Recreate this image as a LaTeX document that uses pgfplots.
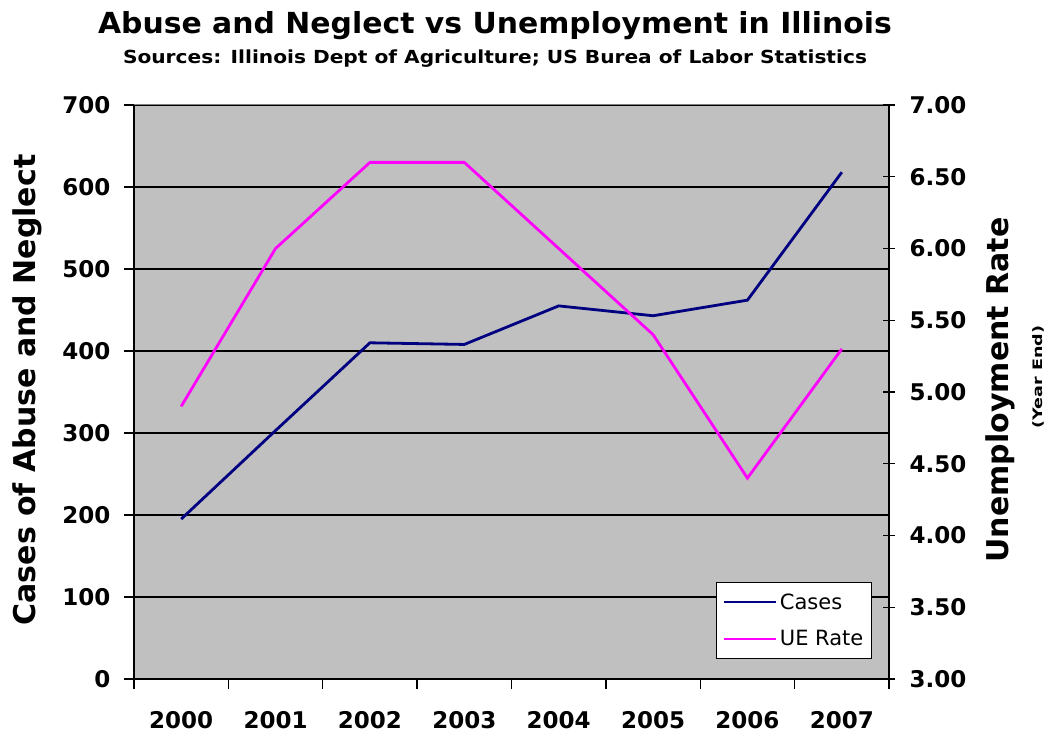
\documentclass[border=0pt]{standalone}
\usepackage{pgfplots}
\pgfplotsset{compat=1.18}
\usepackage{fontspec}
\setmainfont{DejaVu Sans}
\definecolor{plotgray}{HTML}{C0C0C0}
\definecolor{casesblue}{HTML}{000080}
\definecolor{uemag}{HTML}{FF00FF}
\begin{document}
\begin{tikzpicture}[x=1pt,y=1pt]
\useasboundingbox (-134,-57) rectangle (914,679);
\begin{axis}[
  at={(0,0)}, anchor=south west,
  scale only axis, width=755pt, height=574pt,
  xmin=-0.5, xmax=7.5, ymin=0, ymax=700,
  axis background/.style={fill=plotgray},
  axis line style={black, line width=1.3pt},
  xtick={0,...,7},
  xticklabels={2000,2001,2002,2003,2004,2005,2006,2007},
  major x tick style={draw=none},
  minor xtick={-0.5,0.5,...,7.5},
  minor tick length=10pt,
  major tick length=10pt,
  tick align=outside,
  tick style={black, line width=1.3pt},
  xtick pos=bottom, ytick pos=left,
  ytick={0,100,...,700},
  ymajorgrids,
  major grid style={black, line width=1.4pt},
  /pgf/number format/assume math mode=true,
  ticklabel style={font=\fontsize{23}{23}\selectfont\bfseries},
  xticklabel style={yshift=-19pt},
  yticklabel style={xshift=-10pt},
  clip=false,
]
\addplot[casesblue, line width=2.8pt] coordinates {
  (0,195) (1,303) (2,410) (3,408) (4,455) (5,443) (6,462) (7,618)};
\draw[gray, line width=1pt] (rel axis cs:0,1) -- (rel axis cs:1,1);
\end{axis}
\begin{axis}[
  at={(0,0)}, anchor=south west,
  scale only axis, width=755pt, height=574pt,
  xmin=-0.5, xmax=7.5, ymin=3, ymax=7,
  axis x line=none, axis y line*=right,
  axis line style={-, black, line width=1.3pt},
  ytick={3,3.5,...,7},
  major tick length=12pt,
  tick align=center,
  tick style={black, line width=1.3pt},
  /pgf/number format/assume math mode=true,
  yticklabel style={xshift=11pt, font=\fontsize{23}{23}\selectfont\bfseries,
    /pgf/number format/.cd, fixed, fixed zerofill, precision=2},
  legend style={at={(0.9775,0.0348)}, anchor=south east, draw=black, fill=white,
    line width=1.3pt,
    font=\fontsize{21}{23}\selectfont, inner xsep=6pt, inner ysep=9pt,
    row sep=16pt, /tikz/every odd column/.append style={column sep=1pt}},
  legend cell align=left,
  legend image code/.code={\draw[#1] (0pt,0pt) -- (52pt,0pt);},
]
\addlegendimage{casesblue, line width=2.2pt}
\addlegendentry{Cases}
\addplot[uemag, line width=2.8pt, forget plot] coordinates {
  (0,4.9) (1,6.0) (2,6.6) (3,6.6) (4,6.0) (5,5.4) (6,4.4) (7,5.3)};
\addlegendimage{uemag, line width=2.2pt}
\addlegendentry{UE Rate}
\end{axis}
\node[anchor=base, font=\fontsize{29}{29}\selectfont\bfseries] at (361,645)
  {\scalebox{1.03}[1]{Abuse and Neglect vs Unemployment in Illinois}};
\node[anchor=base, font=\fontsize{18}{18}\selectfont\bfseries] at (361,615)
  {\scalebox{1.12}[1]{Sources: Illinois Dept of Agriculture; US Burea of Labor Statistics}};
\node[rotate=90, font=\fontsize{30}{30}\selectfont\bfseries] at (-107,289)
  {Cases of Abuse and Neglect};
\node[rotate=90, font=\fontsize{30}{30}\selectfont\bfseries] at (866,289)
  {Unemployment Rate};
\node[rotate=90, font=\fontsize{13}{13}\selectfont\bfseries] at (904,302)
  {\scalebox{1.35}[1]{(Year End)}};
\end{tikzpicture}
\end{document}
